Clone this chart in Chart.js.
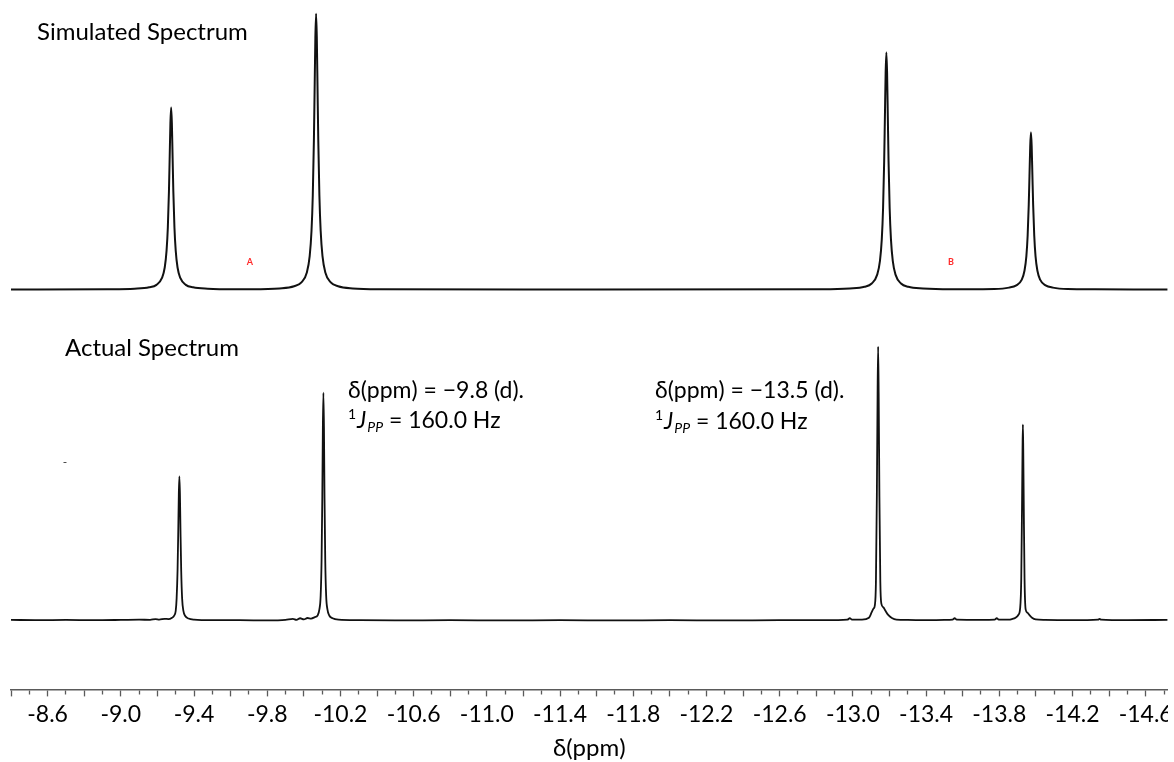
<!DOCTYPE html>
<html>
<head>
<meta charset="utf-8">
<script src="https://cdn.jsdelivr.net/npm/chart.js@4"></script>
<style>
  html, body { margin: 0; padding: 0; background: #fff; overflow: hidden; }
  #wrap { width: 1168px; height: 762px; }
</style>
</head>
<body>
<div id="wrap"><canvas id="nmr" width="1168" height="762"></canvas></div>
<script>
// chemical shift range of the x axis (ppm, drawn right-to-left)
const ppmMin = -14.72;
const ppmMax = -8.40;
const tickStep = 0.1;

// simulated spectrum: shift (ppm) and intensity
const simShift = [
  -8.40, -8.925, -9.075, -9.155, -9.195, -9.225, -9.240, -9.250, -9.257, -9.263, -9.267, -9.271,
  -9.275,
  -9.279, -9.283, -9.287, -9.293, -9.300, -9.310, -9.325, -9.355, -9.395, -9.475, -9.625,
  -9.717, -9.867, -9.947, -9.987, -10.017, -10.032, -10.042, -10.049, -10.055, -10.059, -10.063,
  -10.067,
  -10.071, -10.075, -10.079, -10.085, -10.092, -10.102, -10.117, -10.147, -10.187, -10.267, -10.417,
  -11.60,
  -12.833, -12.983, -13.063, -13.103, -13.133, -13.148, -13.158, -13.165, -13.171, -13.175, -13.179,
  -13.183,
  -13.187, -13.191, -13.195, -13.201, -13.208, -13.218, -13.233, -13.263, -13.303, -13.383, -13.533,
  -13.623, -13.773, -13.853, -13.893, -13.923, -13.938, -13.948, -13.955, -13.961, -13.965, -13.969,
  -13.973,
  -13.977, -13.981, -13.985, -13.991, -13.998, -14.008, -14.023, -14.053, -14.093, -14.173, -14.323,
  -14.72
];
const simIntensity = [
  0, 0.1, 0.3, 0.8, 1.7, 4.2, 8.0, 14.1, 22.6, 35.6, 47.9, 60.3,
  66,
  60.3, 47.9, 35.6, 22.6, 14.1, 8.0, 4.2, 1.7, 0.8, 0.3, 0.1,
  0.1, 0.4, 1.2, 2.6, 6.3, 12.1, 21.3, 34.3, 54.0, 72.5, 91.3,
  100,
  91.3, 72.5, 54.0, 34.3, 21.3, 12.1, 6.3, 2.6, 1.2, 0.4, 0.1,
  0,
  0.1, 0.4, 1.0, 2.2, 5.4, 10.4, 18.3, 29.5, 46.4, 62.4, 78.5,
  86,
  78.5, 62.4, 46.4, 29.5, 18.3, 10.4, 5.4, 2.2, 1.0, 0.4, 0.1,
  0.1, 0.2, 0.7, 1.5, 3.6, 6.9, 12.1, 19.6, 30.8, 41.3, 52.0,
  57,
  52.0, 41.3, 30.8, 19.6, 12.1, 6.9, 3.6, 1.5, 0.7, 0.2, 0.1,
  0
];

// actual (measured) spectrum: shift (ppm) and intensity
const actShift = [
  -8.40, -8.55, -8.70, -8.85, -9.00, -9.10, -9.16, -9.19, -9.21, -9.24, -9.26, -9.28, -9.29,
  -9.300, -9.305, -9.310, -9.314, -9.317, -9.320, -9.323, -9.326, -9.330, -9.335, -9.342, -9.352,
  -9.37, -9.40, -9.50, -9.65, -9.80, -9.90, -9.94, -9.96, -9.98, -10.00, -10.02, -10.04, -10.06,
  -10.075, -10.085, -10.092, -10.097, -10.101, -10.104, -10.107, -10.110, -10.113, -10.117, -10.122,
  -10.129, -10.139, -10.157, -10.19, -10.30, -10.50, -10.80, -11.10, -11.40, -11.70, -12.00,
  -12.30, -12.60, -12.85, -12.97, -12.983, -12.995, -13.05, -13.088, -13.103, -13.113, -13.120,
  -13.126, -13.131, -13.135, -13.138, -13.141, -13.145, -13.150, -13.156, -13.166, -13.178,
  -13.193, -13.213, -13.238, -13.30, -13.40, -13.50, -13.545, -13.556, -13.567, -13.70, -13.775,
  -13.786, -13.797, -13.85, -13.869, -13.889, -13.904, -13.914, -13.920, -13.924, -13.927, -13.929,
  -13.931, -13.934, -13.938, -13.944, -13.954, -13.964, -13.979, -13.999, -14.05, -14.20, -14.34,
  -14.348, -14.356, -14.50, -14.72
];
const actIntensity = [
  0.2, 0.1, 0.2, 0.1, 0.2, 0.3, 0.2, 0.5, 0.3, 0.6, 0.5, 1.0, 1.6,
  3.5, 8, 18, 33, 46, 52.2, 46, 33, 18, 8, 3.5, 1.6,
  0.7, 0.3, 0.1, 0.1, 0.0, 0.2, 0.6, 0.2, 0.8, 0.4, 0.9, 0.7, 1.2,
  1.8, 4, 9, 22, 45, 70, 82.6, 70, 45, 22, 9,
  4, 1.8, 0.8, 0.3, 0.1, 0.0, 0.1, 0.0, 0.1, 0.0, 0.1,
  0.0, 0.1, 0.1, 0.3, 0.8, 0.3, 0.3, 1.0, 3, 4.3, 5.5,
  14, 45, 82, 99.3, 82, 45, 14, 6, 4.8, 3.5,
  2.0, 0.9, 0.3, 0.2, 0.1, 0.2, 0.3, 0.8, 0.3, 0.2, 0.3,
  0.8, 0.3, 0.3, 0.5, 1.0, 2.0, 4.5, 15, 40, 62, 71,
  62, 40, 15, 4, 2.8, 2.0, 1.0, 0.4, 0.2, 0.1, 0.3,
  0.6, 0.3, 0.1, 0.2
];

// vertical offsets of the two traces (intensity units)
const SIM_BASE = 145;
const ACT_BASE = 25.0;
const Y_MAX = 250;

const FONT = 'Lato, "Open Sans", sans-serif';

function isLabelled(v) {
  const k = Math.round(-v * 10);
  return (k - 86) % 4 === 0;
}
function isMajor(v) {
  return Math.round(-v * 10) % 2 === 0;
}

const textPlugin = {
  id: 'nmrText',
  afterDraw(chart) {
    const ctx = chart.ctx;
    ctx.save();
    ctx.fillStyle = '#000';
    ctx.textBaseline = 'middle';
    ctx.textAlign = 'left';
    ctx.font = '24px ' + FONT;
    ctx.fillText('Simulated Spectrum', 37, 32);
    ctx.fillText('Actual Spectrum', 65, 348);

    const coupling = (x, y1, y2, shiftText) => {
      ctx.font = '23px ' + FONT;
      ctx.fillText(shiftText, x, y1);
      let cx = x;
      ctx.font = '14px ' + FONT;
      ctx.fillText('1', cx, y2 - 7);
      cx += ctx.measureText('1').width + 1;
      ctx.font = 'italic 23px ' + FONT;
      ctx.fillText('J', cx, y2);
      cx += ctx.measureText('J').width + 1;
      ctx.font = 'italic 14px ' + FONT;
      ctx.fillText('PP', cx, y2 + 6);
      cx += ctx.measureText('PP').width;
      ctx.font = '23px ' + FONT;
      ctx.fillText(' = 160.0 Hz', cx, y2);
    };
    coupling(348, 391, 421, 'δ(ppm) = −9.8 (d).');
    coupling(655, 391, 422, 'δ(ppm) = −13.5 (d).');

    ctx.fillStyle = '#ff2a2a';
    ctx.font = 'bold 9px ' + FONT;
    ctx.textAlign = 'center';
    ctx.fillText('A', 250, 262);
    ctx.fillText('B', 951, 262);

    ctx.fillStyle = '#333';
    ctx.font = '12px ' + FONT;
    ctx.fillText('-', 65, 462);
    ctx.restore();
  }
};

const toPoints = (xs, ys, base) => xs.map((x, i) => ({ x, y: ys[i] + base }));

new Chart(document.getElementById('nmr'), {
  type: 'line',
  data: {
    datasets: [
      {
        label: 'Simulated Spectrum',
        data: toPoints(simShift, simIntensity, SIM_BASE),
        borderColor: '#111', borderWidth: 2, pointRadius: 0,
        cubicInterpolationMode: 'monotone', fill: false
      },
      {
        label: 'Actual Spectrum',
        data: toPoints(actShift, actIntensity, ACT_BASE),
        borderColor: '#111', borderWidth: 1.8, pointRadius: 0,
        cubicInterpolationMode: 'monotone', fill: false
      }
    ]
  },
  options: {
    responsive: false,
    animation: false,
    devicePixelRatio: 1,
    layout: { padding: { left: 11, right: 0, top: 0, bottom: 0 } },
    plugins: { legend: { display: false }, tooltip: { enabled: false } },
    scales: {
      x: {
        type: 'linear',
        reverse: true,
        min: ppmMin,
        max: ppmMax,
        border: { display: true, color: '#5a5a5a', width: 1.5 },
        grid: {
          drawOnChartArea: false,
          drawTicks: true,
          tickLength: 7,
          tickColor: '#5a5a5a',
          tickWidth: 1.3,
          tickBorderDash: ctx => (ctx.tick && isMajor(ctx.tick.value)) ? [] : [4, 20]
        },
        ticks: {
          stepSize: tickStep,
          includeBounds: false,
          autoSkip: false,
          maxRotation: 0,
          padding: 4,
          color: '#000',
          font: { family: FONT, size: 23 },
          callback: v => isLabelled(v) ? v.toFixed(1) : ''
        },
        title: {
          display: true,
          text: 'δ(ppm)',
          color: '#000',
          font: { family: FONT, size: 24, lineHeight: 1.0 },
          padding: { top: 4, bottom: 2 }
        }
      },
      y: {
        display: false,
        min: 0,
        max: Y_MAX
      }
    }
  },
  plugins: [textPlugin]
});
</script>
</body>
</html>
